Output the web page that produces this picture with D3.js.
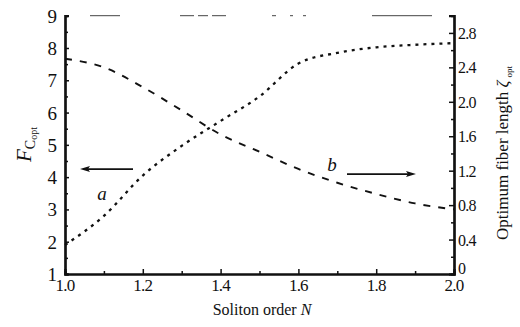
<!DOCTYPE html>
<html><head><meta charset="utf-8">
<script src="https://cdn.jsdelivr.net/npm/d3@7"></script>
<style>body{margin:0;background:#fff}svg{display:block}text{font-family:"Liberation Serif","Times New Roman",serif;fill:#111}</style>
</head><body><svg id="c" width="520" height="327"></svg>
<script>
const solitonOrder = [1.0, 1.1, 1.2, 1.3, 1.4, 1.5, 1.6, 1.7, 1.8, 1.9, 2.0];
const curveA_Fcopt = [1.9, 2.8, 4.05, 4.97, 5.74, 6.5, 7.52, 7.85, 8.02, 8.1, 8.15];
const curveB_zeta = [2.50, 2.40, 2.17, 1.90, 1.62, 1.42, 1.22, 1.06, 0.93, 0.82, 0.75];
const xTicks = [1.0, 1.2, 1.4, 1.6, 1.8, 2.0];
const leftTicks = [1, 2, 3, 4, 5, 6, 7, 8, 9];
const rightTicks = [0, 0.4, 0.8, 1.2, 1.6, 2.0, 2.4, 2.8];

const svg = d3.select("#c");
const x = d3.scaleLinear().domain([1, 2]).range([65, 454]);
const yL = d3.scaleLinear().domain([1, 9]).range([274, 15.7]);
const yR = d3.scaleLinear().domain([0, 3]).range([274, 15.7]);

// top broken frame
svg.append("line").attr("x1", 90).attr("x2", 445).attr("y1", yL(9)).attr("y2", yL(9))
  .attr("stroke", "#444").attr("stroke-width", 1)
  .attr("stroke-dasharray", "30 60 14 4 10 4 14 46 4 14 3 10 3 66 60");

// axes
const gL = svg.append("g").attr("transform", `translate(${x(1)},0)`)
  .call(d3.axisRight(yL).tickValues(leftTicks).tickSize(4).tickFormat(""));
const gLm = svg.append("g").attr("transform", `translate(${x(1)},0)`)
  .call(d3.axisRight(yL).tickValues(d3.range(1.5, 9, 1)).tickSize(3).tickFormat(""));
const gR = svg.append("g").attr("transform", `translate(${x(2)},0)`)
  .call(d3.axisLeft(yR).tickValues(rightTicks).tickSize(5).tickFormat(""));
const gRm = svg.append("g").attr("transform", `translate(${x(2)},0)`)
  .call(d3.axisLeft(yR).tickValues(d3.range(0.2, 3.0, 0.4)).tickSize(3).tickFormat(""));
const gB = svg.append("g").attr("transform", `translate(0,${yL(1)})`)
  .call(d3.axisTop(x).tickValues(xTicks).tickSize(5).tickFormat(""));
const gBm = svg.append("g").attr("transform", `translate(0,${yL(1)})`)
  .call(d3.axisTop(x).tickValues(d3.range(1.1, 2.0, 0.2)).tickSize(3).tickFormat(""));
[gL, gLm, gR, gRm, gB, gBm].forEach(g => {
  g.select(".domain").attr("stroke", "#111").attr("stroke-width", 2.2);
  g.selectAll(".tick line").attr("stroke", "#111").attr("stroke-width", 1.5);
});

// tick labels
svg.append("g").selectAll("text").data(leftTicks).join("text")
  .attr("x", 57).attr("y", d => yL(d) + 7).attr("text-anchor", "end")
  .attr("font-size", 19).text(d => d);
svg.append("g").selectAll("text").data(rightTicks).join("text")
  .attr("x", 458).attr("y", d => yR(d) + (d === 0 ? 0 : 6)).attr("text-anchor", "start")
  .attr("font-size", 16).attr("letter-spacing", -0.8).text(d => d === 0 ? "0" : d.toFixed(1));
svg.append("g").selectAll("text").data(xTicks).join("text")
  .attr("x", d => x(d)).attr("y", 291).attr("text-anchor", "middle")
  .attr("font-size", 17).attr("letter-spacing", -0.8).text(d => d.toFixed(1));

// axis titles
svg.append("text").attr("x", 262).attr("y", 315).attr("text-anchor", "middle").attr("font-size", 16)
  .html('Soliton order <tspan font-style="italic">N</tspan>');
const lt = svg.append("text").attr("transform", "translate(31,162) rotate(-90)").attr("text-anchor", "start");
lt.append("tspan").attr("font-style", "italic").attr("font-size", 21).text("F");
lt.append("tspan").attr("font-size", 14).attr("dy", 4).text("C");
lt.append("tspan").attr("font-size", 10).attr("dy", 2).text("opt");
const rt = svg.append("text").attr("transform", "translate(508,153) rotate(-90)").attr("text-anchor", "middle");
rt.append("tspan").attr("font-size", 17).text("Optimum fiber length ");
rt.append("tspan").attr("font-size", 17).attr("font-style", "italic").text("ζ");
rt.append("tspan").attr("font-size", 9).attr("dy", 4).attr("dx", 3).text("opt");

// curves
const lineA = d3.line().x((d, i) => x(solitonOrder[i])).y(d => yL(d)).curve(d3.curveMonotoneX);
const lineB = d3.line().x((d, i) => x(solitonOrder[i])).y(d => yR(d)).curve(d3.curveMonotoneX);
svg.append("path").attr("d", lineA(curveA_Fcopt)).attr("fill", "none").attr("stroke", "#111")
  .attr("stroke-width", 2.3).attr("stroke-dasharray", "3 5");
svg.append("path").attr("d", lineB(curveB_zeta)).attr("fill", "none").attr("stroke", "#111")
  .attr("stroke-width", 1.9).attr("stroke-dasharray", "7 8");

// arrows and labels
const arrowY_A = yL(4.25), arrowY_B = yR(1.16);
svg.append("line").attr("x1", 133).attr("x2", 86).attr("y1", arrowY_A).attr("y2", arrowY_A)
  .attr("stroke", "#111").attr("stroke-width", 1.8);
svg.append("path").attr("d", `M80,${arrowY_A} L90,${arrowY_A - 3} L88,${arrowY_A} L90,${arrowY_A + 3}Z`).attr("fill", "#111");
svg.append("line").attr("x1", 347).attr("x2", 410).attr("y1", arrowY_B).attr("y2", arrowY_B)
  .attr("stroke", "#111").attr("stroke-width", 1.8);
svg.append("path").attr("d", `M416,${arrowY_B} L406,${arrowY_B - 3} L408,${arrowY_B} L406,${arrowY_B + 3}Z`).attr("fill", "#111");
svg.append("text").attr("x", 102).attr("y", 200).attr("text-anchor", "middle").attr("font-style", "italic").attr("font-size", 19).text("a");
svg.append("text").attr("x", 332).attr("y", 171).attr("text-anchor", "middle").attr("font-style", "italic").attr("font-size", 19).text("b");
</script></body></html>
